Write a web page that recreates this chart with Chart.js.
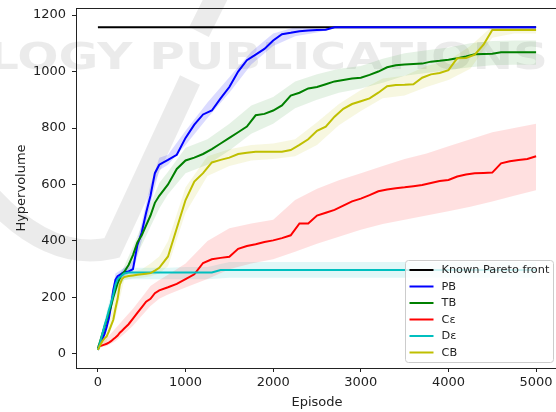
<!DOCTYPE html>
<html>
<head>
<meta charset="utf-8">
<script src="https://cdn.jsdelivr.net/npm/chart.js@4.4.1/dist/chart.umd.min.js"></script>
<style>
	html, body { margin: 0; padding: 0; background: #fff; overflow: hidden; }
	#wrap { width: 562px; height: 412px; }
</style>
</head>
<body>
<div id="wrap"><canvas id="chart" width="562" height="412"></canvas></div>
<script>
const episodes = [0, 25, 50, 75, 100, 125, 150, 175, 200, 225, 250, 275, 300,
	350, 400, 450, 500, 550, 600, 650, 700,
	800, 900, 1000, 1100, 1200, 1300, 1400, 1500, 1600, 1700, 1800, 1900,
	2000, 2100, 2200, 2300, 2400, 2500, 2600, 2700, 2800, 2900,
	3000, 3100, 3200, 3300, 3400, 3500, 3600, 3700, 3800, 3900,
	4000, 4100, 4200, 4300, 4400, 4500, 4600, 4700, 4800, 4900, 5000];

const paretoEpisodes = [0, 5000];
const paretoFront = [1157, 1157];

const pbValues = [14, 35, 52, 70, 95, 125, 170, 225, 262, 275, 280, 285, 290,
	292, 300, 385, 430, 500, 560, 640, 670,
	687, 705, 765, 812, 848, 862, 905, 945, 1000, 1040, 1060, 1080,
	1110, 1132, 1137, 1143, 1145, 1147, 1148, 1157, 1157, 1157,
	1157, 1157, 1157, 1157, 1157, 1157, 1157, 1157, 1157, 1157,
	1157, 1157, 1157, 1157, 1157, 1157, 1157, 1157, 1157, 1157, 1157];

const tbValues = [20, 45, 70, 95, 120, 145, 170, 200, 225, 250, 268, 282, 290,
	315, 350, 395, 420, 455, 490, 535, 560,
	600, 655, 685, 695, 708, 725, 745, 765, 785, 805, 845, 850,
	862, 880, 915, 925, 940, 945, 955, 965, 970, 975,
	978, 988, 1000, 1015, 1022, 1025, 1027, 1028, 1035, 1038,
	1042, 1047, 1053, 1061, 1062, 1063, 1068, 1068, 1068, 1068, 1068];

const ceValues = [26, 28, 30, 33, 36, 40, 45, 52, 58, 65, 75, 82, 90,
	105, 125, 145, 165, 185, 195, 215, 225,
	236, 248, 265, 282, 322, 335, 340, 344, 372, 382, 388, 396,
	402, 410, 420, 462, 462, 490, 500, 510, 525, 540,
	550, 562, 576, 582, 587, 590, 594, 598, 605, 612,
	616, 628, 635, 640, 641, 642, 675, 682, 687, 690, 700];

const deValues = [14, 40, 70, 100, 125, 155, 180, 210, 245, 265, 272, 278, 285,
	288, 288, 288, 288, 288, 288, 288, 288,
	288, 288, 288, 288, 288, 288, 297, 297, 297, 297, 297, 297,
	297, 297, 297, 297, 297, 297, 297, 297, 297, 297,
	297, 297, 297, 297, 297, 297, 297, 297, 297, 297,
	297, 297, 297, 297, 297, 297, 297, 297, 297, 297, 297];

const cbValues = [14, 30, 45, 55, 62, 80, 100, 120, 160, 195, 245, 265, 272,
	276, 278, 280, 282, 284, 286, 295, 305,
	345, 445, 545, 610, 640, 678, 687, 695, 708, 712, 716, 716,
	716, 716, 722, 740, 760, 790, 805, 840, 868, 885,
	895, 905, 925, 948, 952, 953, 955, 978, 990, 995,
	1005, 1047, 1048, 1060, 1095, 1147, 1147, 1147, 1147, 1147, 1147];

// spread bands (lower / upper edge), on a coarser grid
const bandEpisodes = [0, 100, 200, 300, 400, 500, 600, 700, 800, 1000, 1250, 1500, 1750,
	2000, 2250, 2500, 2750, 3000, 3250, 3500, 3750, 4000, 4250, 4500, 4750, 5000];

const pbLow = [10, 80, 240, 275, 290, 400, 530, 650, 670, 740, 835, 925, 1025,
	1090, 1125, 1138, 1157, 1157, 1157, 1157, 1157, 1157, 1157, 1157, 1157, 1157];
const pbHigh = [18, 115, 285, 305, 330, 465, 600, 695, 705, 790, 890, 980, 1070,
	1135, 1157, 1157, 1157, 1157, 1157, 1157, 1157, 1157, 1157, 1157, 1157, 1157];

const tbLow = [15, 100, 200, 275, 320, 385, 450, 515, 565, 640, 670, 720, 780,
	815, 870, 900, 925, 940, 960, 985, 995, 1005, 1015, 1022, 1024, 1024];
const tbHigh = [28, 140, 250, 310, 380, 455, 530, 605, 645, 730, 760, 815, 880,
	910, 965, 990, 1010, 1020, 1045, 1065, 1075, 1085, 1100, 1108, 1110, 1110];

const ceLow = [22, 28, 45, 70, 100, 135, 170, 195, 210, 235, 265, 300, 320,
	335, 362, 390, 415, 440, 460, 475, 490, 505, 521, 540, 560, 580];
const ceHigh = [30, 55, 90, 125, 160, 200, 240, 262, 280, 320, 400, 445, 462,
	475, 545, 585, 615, 640, 665, 690, 710, 735, 760, 785, 800, 815];

const deLow = [10, 100, 220, 262, 264, 264, 264, 264, 264, 264, 264, 270, 270,
	270, 270, 270, 270, 270, 270, 270, 270, 270, 270, 270, 270, 270];
const deHigh = [18, 150, 272, 305, 305, 305, 305, 305, 305, 308, 308, 325, 325,
	325, 325, 325, 325, 325, 325, 325, 325, 325, 325, 325, 325, 325];

const cbLow = [10, 45, 130, 262, 268, 270, 275, 285, 310, 500, 630, 665, 685,
	690, 700, 740, 810, 860, 905, 915, 945, 970, 1010, 1120, 1135, 1135];
const cbHigh = [18, 80, 200, 285, 292, 300, 320, 345, 400, 590, 700, 725, 740,
	745, 760, 820, 885, 935, 975, 985, 1020, 1040, 1090, 1160, 1157, 1157];

const xTickValues = [0, 1000, 2000, 3000, 4000, 5000];
const yTickValues = [0, 200, 400, 600, 800, 1000, 1200];

const toPoints = (xs, ys) => xs.map((x, i) => ({ x, y: ys[i] }));

function lineSet(label, xs, ys, color, order) {
	return {
		label,
		data: toPoints(xs, ys),
		borderColor: color,
		borderWidth: 2,
		pointRadius: 0,
		tension: 0,
		fill: false,
		order,
	};
}

function bandSets(low, high, fillColor) {
	return [
		{ isBand: true, data: toPoints(bandEpisodes, low), borderWidth: 0, pointRadius: 0, fill: false, order: 50 },
		{ isBand: true, data: toPoints(bandEpisodes, high), borderWidth: 0, pointRadius: 0, fill: '-1', backgroundColor: fillColor, order: 50 },
	];
}

const watermark = {
	id: 'watermark',
	beforeDatasetsDraw(chart) {
		const { ctx } = chart;
		ctx.save();
		ctx.strokeStyle = 'rgba(0, 0, 0, 0.08)';
		ctx.lineWidth = 22;
		ctx.lineCap = 'butt';
		ctx.beginPath();
		ctx.moveTo(-10, 196);
		ctx.quadraticCurveTo(50, 262, 112, 248);
		ctx.lineTo(190, 80);
		ctx.stroke();
		ctx.beginPath();
		ctx.moveTo(199, 32);
		ctx.lineTo(218, -6);
		ctx.stroke();

		ctx.fillStyle = 'rgba(0, 0, 0, 0.08)';
		ctx.font = 'bold 37px "DejaVu Sans"';
		ctx.textBaseline = 'alphabetic';
		const text = 'LOGY PUBLICATIONS';
		const width = ctx.measureText(text).width;
		ctx.translate(-12, 69);
		ctx.scale(560 / width, 1);
		ctx.fillText(text, 0, 0);
		ctx.restore();
	},
};

const frameAndLegend = {
	id: 'frameAndLegend',
	afterDraw(chart) {
		const { ctx, chartArea } = chart;
		ctx.save();
		ctx.strokeStyle = '#222';
		ctx.lineWidth = 1;
		ctx.beginPath();
		ctx.moveTo(chartArea.left, Math.round(chartArea.top) + 0.5);
		ctx.lineTo(chartArea.right, Math.round(chartArea.top) + 0.5);
		ctx.stroke();

		const items = chart.data.datasets.filter((ds) => !ds.isBand);
		const boxW = 148;
		const boxH = 102;
		const boxX = Math.round(chartArea.right - 5 - boxW) + 0.5;
		const boxY = Math.round(chartArea.bottom - 6 - boxH) + 0.5;
		ctx.beginPath();
		ctx.roundRect(boxX, boxY, boxW, boxH, 3);
		ctx.fillStyle = 'rgba(255, 255, 255, 0.8)';
		ctx.fill();
		ctx.strokeStyle = '#cccccc';
		ctx.stroke();

		ctx.font = '11.3px "DejaVu Sans"';
		ctx.textBaseline = 'middle';
		ctx.textAlign = 'left';
		items.forEach((ds, i) => {
			const y = boxY + 9.5 + i * 16.5;
			ctx.strokeStyle = ds.borderColor;
			ctx.lineWidth = 2;
			ctx.beginPath();
			ctx.moveTo(boxX + 4, y);
			ctx.lineTo(boxX + 28, y);
			ctx.stroke();
			ctx.fillStyle = '#222';
			ctx.fillText(ds.label, boxX + 36, y + 0.5);
		});
		ctx.restore();
	},
};

Chart.defaults.font.family = '"DejaVu Sans", sans-serif';
Chart.defaults.color = '#222';

new Chart(document.getElementById('chart'), {
	type: 'line',
	data: {
		datasets: [
			lineSet('Known Pareto front', paretoEpisodes, paretoFront, '#000000', 10),
			lineSet('PB', episodes, pbValues, '#0000ff', 9),
			lineSet('TB', episodes, tbValues, '#008000', 8),
			lineSet('C\u03b5', episodes, ceValues, '#ff0000', 7),
			lineSet('D\u03b5', episodes, deValues, '#00bfbf', 6),
			lineSet('CB', episodes, cbValues, '#bfbf00', 5),
			...bandSets(pbLow, pbHigh, 'rgba(0, 0, 255, 0.14)'),
			...bandSets(tbLow, tbHigh, 'rgba(0, 128, 0, 0.1)'),
			...bandSets(ceLow, ceHigh, 'rgba(255, 0, 0, 0.12)'),
			...bandSets(deLow, deHigh, 'rgba(0, 191, 191, 0.12)'),
			...bandSets(cbLow, cbHigh, 'rgba(191, 191, 0, 0.12)'),
		],
	},
	options: {
		responsive: false,
		animation: false,
		events: [],
		layout: { padding: { left: 0, top: 8, right: 4, bottom: 0 } },
		plugins: {
			legend: { display: false },
			tooltip: { enabled: false },
			filler: { propagate: false },
		},
		scales: {
			x: {
				type: 'linear',
				min: -250,
				max: 5250,
				afterBuildTicks: (scale) => { scale.ticks = xTickValues.map((value) => ({ value })); },
				afterFit: (scale) => { scale.height = 44; scale.paddingLeft = 0; scale.paddingRight = 0; },
				grid: { drawOnChartArea: false, drawTicks: true, tickLength: 4, color: '#222' },
				border: { display: true, color: '#222', width: 1 },
				ticks: { font: { size: 13 }, padding: 3, maxRotation: 0, callback: (value) => String(value) },
				title: { display: true, text: 'Episode', font: { size: 13 }, padding: { top: 0, bottom: 2 } },
			},
			y: {
				type: 'linear',
				min: -50,
				max: 1225,
				afterBuildTicks: (scale) => { scale.ticks = yTickValues.map((value) => ({ value })); },
				afterFit: (scale) => { scale.width = 76; scale.paddingTop = 0; scale.paddingBottom = 0; },
				grid: { drawOnChartArea: false, drawTicks: true, tickLength: 4, color: '#222' },
				border: { display: true, color: '#222', width: 1 },
				ticks: { font: { size: 13 }, padding: 6, callback: (value) => String(value) },
				title: { display: true, text: 'Hypervolume', font: { size: 13 }, padding: { top: 14, bottom: 0 } },
			},
		},
	},
	plugins: [watermark, frameAndLegend],
});
</script>
</body>
</html>
